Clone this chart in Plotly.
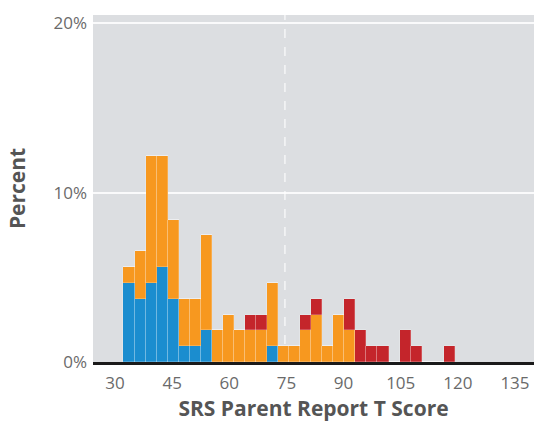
import plotly.graph_objects as go

# Bin centres (T score)
bin_centers = [33.65, 36.55, 39.45, 42.35, 45.25, 48.15, 51.05, 53.95, 56.85, 59.75,
               62.65, 65.55, 68.45, 71.35, 74.25, 77.15, 80.05, 82.95, 85.85, 88.75,
               91.65, 94.55, 97.45, 100.35, 103.25, 106.15, 109.05, 111.95, 114.85, 117.75]
bin_width = 2.9

# Stacked segment heights (percent)
blue_pct = [4.67, 3.74, 4.67, 5.61, 3.74, 0.93, 0.93, 1.87, 0, 0,
            0, 0, 0, 0.93, 0, 0, 0, 0, 0, 0,
            0, 0, 0, 0, 0, 0, 0, 0, 0, 0]
orange_pct = [0.93, 2.80, 7.48, 6.54, 4.67, 2.80, 2.80, 5.61, 1.87, 2.80,
              1.87, 1.87, 1.87, 3.74, 0.93, 0.93, 1.87, 2.80, 0.93, 2.80,
              1.87, 0, 0, 0, 0, 0, 0, 0, 0, 0]
red_pct = [0, 0, 0, 0, 0, 0, 0, 0, 0, 0,
           0, 0.93, 0.93, 0, 0, 0, 0.93, 0.93, 0, 0,
           1.87, 1.87, 0.93, 0.93, 0, 1.87, 0.93, 0, 0, 0.93]

x_ticks = [30, 45, 60, 75, 90, 105, 120, 135]
y_ticks = [0, 10, 20]
y_tick_labels = ["0%", "10%", "20%"]
cutoff = 74.6

BLUE = "#1b8dcf"
ORANGE = "#f7981f"
RED = "#c4252b"
BG = "#dcdee1"
sep = dict(color="rgba(255,255,255,0.35)", width=0.6)

fig = go.Figure()
for vals, col in [(blue_pct, BLUE), (orange_pct, ORANGE), (red_pct, RED)]:
    fig.add_trace(go.Bar(x=bin_centers, y=vals, width=bin_width,
                         marker=dict(color=col, line=sep), showlegend=False))

fig.add_shape(type="line", x0=cutoff, x1=cutoff, y0=0, y1=1, xref="x", yref="paper",
              line=dict(color="rgba(255,255,255,0.9)", width=1.2, dash="dash"), layer="below")

fig.update_layout(
    width=534, height=423,
    margin=dict(l=93, r=0, t=15, b=61),
    barmode="stack", bargap=0,
    plot_bgcolor=BG, paper_bgcolor="white",
    font=dict(family="Open Sans", color="#666666"),
    xaxis=dict(range=[24.2, 140], tickvals=x_ticks, showgrid=False, zeroline=False,
               showline=True, linecolor="#1a1a1a", linewidth=3, layer="above traces",
               ticks="", tickfont=dict(size=17, color="#6a6a6a"), ticklabelstandoff=4,
               title=dict(text="SRS Parent Report T Score", standoff=6,
                          font=dict(size=21, color="#555555", family="Open Sans", weight="bold"))),
    yaxis=dict(range=[0, 20.5], tickvals=y_ticks, ticktext=y_tick_labels,
               showgrid=True, gridcolor="rgba(255,255,255,0.85)", gridwidth=1.5,
               zeroline=False, showline=False, ticks="",
               tickfont=dict(size=17, color="#6a6a6a"), ticklabelstandoff=5,
               title=dict(text="Percent", standoff=22,
                          font=dict(size=21, color="#555555", family="Open Sans", weight="bold"))),
)

fig.write_html("out.html", config={"displayModeBar": False},
               post_script="document.body.style.margin='0';document.body.style.overflow='hidden';")
